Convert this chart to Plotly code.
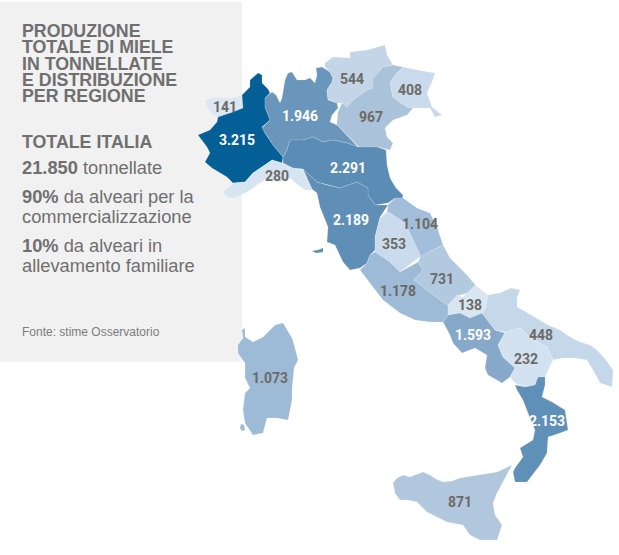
import plotly.graph_objects as go

# region outlines (x, y in picture units)
valle_aosta = [(205,100),(215,97),(223,98),(232,98),(242,95),(243,108),(233,112),(225,115),(217,117),(210,112),(207,107)]
piemonte = [(258,73),(262,75),(262,83),(268,89),(270,93),(265,98),(265,107),(270,120),(262,127),(265,133),(273,145),(283,157),(282,163),(272,160),(265,165),(253,173),(245,182),(233,183),(227,177),(212,168),(205,162),(210,153),(207,147),(198,135),(210,130),(217,122),(218,117),(225,115),(233,112),(243,108),(242,95),(250,87),(250,80)]
liguria = [(223,192),(227,197),(235,198),(247,192),(257,185),(268,178),(280,182),(290,178),(298,185),(305,190),(312,190),(303,170),(293,168),(283,163),(282,163),(272,160),(265,165),(253,173),(245,182),(233,183)]
lombardia = [(288,73),(292,72),(297,80),(305,80),(310,78),(315,83),(317,75),(316,68),(322,67),(330,72),(333,78),(332,82),(327,90),(328,100),(337,103),(338,108),(332,115),(330,122),(337,125),(347,135),(358,147),(347,143),(333,140),(323,142),(313,137),(303,140),(290,140),(287,150),(283,157),(273,145),(265,133),(262,128),(270,120),(265,107),(265,98),(272,92),(276,95),(280,103),(282,98),(283,90),(285,80)]
trentino = [(325,63),(333,57),(350,58),(350,52),(367,50),(385,45),(387,55),(393,65),(383,67),(373,78),(373,88),(367,90),(353,100),(347,107),(342,103),(337,103),(328,100),(327,90),(332,82),(333,78),(330,72),(325,67)]
veneto = [(383,67),(393,65),(403,67),(397,73),(390,83),(393,97),(407,107),(413,108),(407,115),(393,120),(385,128),(387,137),(393,143),(390,150),(377,147),(360,148),(347,135),(337,125),(337,122),(338,112),(342,103),(347,107),(353,100),(367,90),(373,88),(373,78)]
friuli = [(403,67),(417,70),(435,73),(432,82),(427,93),(432,107),(442,115),(435,117),(430,108),(413,108),(407,107),(393,97),(390,83),(397,73)]
emilia = [(290,140),(303,140),(313,137),(323,142),(333,140),(347,143),(358,147),(377,147),(386,150),(387,165),(390,178),(396,188),(403,195),(402,200),(395,198),(388,203),(375,205),(368,195),(368,188),(357,182),(340,188),(327,185),(317,182),(303,169),(293,168),(283,163),(283,157),(287,150)]
toscana = [(303,169),(317,182),(327,185),(340,188),(357,182),(368,188),(368,195),(375,205),(388,205),(380,217),(375,237),(375,250),(370,255),(367,263),(360,268),(350,270),(343,262),(335,245),(327,242),(328,227),(320,207),(317,193),(312,189)]
elba = [(312,251),(318,250),(323,248),(323,252),(316,253)]
marche = [(388,205),(395,198),(403,198),(417,208),(430,213),(437,227),(443,245),(427,253),(420,258),(413,240),(405,223),(393,215),(387,212)]
umbria = [(387,212),(393,215),(405,223),(413,240),(421,256),(413,262),(400,272),(390,262),(375,252),(375,237),(380,218)]
abruzzo = [(443,245),(450,258),(467,275),(477,287),(468,293),(460,295),(448,305),(440,300),(427,290),(414,280),(423,270),(418,262),(421,256),(427,253)]
lazio = [(375,252),(390,262),(400,272),(418,262),(423,270),(414,280),(427,290),(440,300),(448,305),(448,315),(443,322),(430,322),(415,320),(400,313),(383,300),(370,283),(360,270),(367,263),(370,255)]
molise = [(448,305),(457,295),(463,297),(475,285),(488,295),(485,310),(482,313),(470,318),(460,313),(448,315)]
campania = [(443,322),(448,315),(460,313),(470,318),(482,313),(495,330),(505,333),(498,345),(503,357),(515,368),(510,377),(502,383),(488,375),(485,368),(487,355),(475,348),(462,353),(453,343),(450,335)]
puglia = [(488,295),(500,293),(511,288),(520,290),(517,298),(517,307),(526,312),(535,317),(548,325),(560,330),(570,337),(580,342),(590,345),(597,350),(606,360),(613,370),(612,387),(600,383),(597,377),(587,360),(575,358),(563,358),(553,360),(547,347),(530,338),(520,328),(505,332),(495,330),(482,313),(485,310)]
basilicata = [(505,332),(520,328),(530,338),(547,347),(553,360),(545,377),(538,377),(535,385),(525,387),(515,383),(510,377),(515,368),(503,357),(498,345)]
calabria = [(515,385),(525,387),(535,385),(538,377),(545,377),(545,385),(542,397),(552,402),(565,410),(568,430),(560,433),(548,437),(547,453),(540,465),(527,482),(515,482),(513,472),(515,468),(523,457),(520,448),(533,440),(535,430),(528,413),(523,400),(517,390)]
sicilia = [(393,483),(397,478),(403,475),(410,477),(415,475),(423,472),(430,475),(436,479),(443,482),(452,481),(460,478),(477,475),(497,472),(512,465),(502,483),(497,493),(493,503),(495,515),(502,525),(497,540),(480,540),(470,535),(463,525),(447,522),(427,512),(417,502),(408,500),(400,500),(395,493)]
sardegna = [(238,345),(243,338),(242,330),(245,328),(245,337),(253,342),(263,337),(270,330),(275,325),(283,323),(287,330),(292,338),(295,348),(298,360),(294,368),(293,377),(292,390),(292,400),(288,420),(277,418),(267,418),(263,433),(253,435),(245,423),(243,410),(245,393),(250,388),(245,378),(245,363),(238,353)]
sant_antioco = [(241,424),(244,425),(245,430),(242,431),(240,428)]

regioni = ["Valle d'Aosta","Piemonte","Liguria","Lombardia","Trentino","Veneto","Friuli","Emilia-Romagna","Toscana","Marche","Umbria","Abruzzo","Lazio","Molise","Campania","Puglia","Basilicata","Calabria","Sicilia","Sardegna"]
produzione = ["141","3.215","280","1.946","544","967","408","2.291","2.189","1.104","353","731","1.178","138","1.593","448","232","2.153","871","1.073"]
contorni = [valle_aosta,piemonte,liguria,lombardia,trentino,veneto,friuli,emilia,toscana,marche,umbria,abruzzo,lazio,molise,campania,puglia,basilicata,calabria,sicilia,sardegna]
colori = ["#dbe8f3","#045f97","#d7e5f2","#6b96bc","#c3d5e7","#abc2db","#c8daeb","#5b8cb5","#5f8fb7","#a3bedb","#c9dbec","#b2c9e0","#9dbad7","#d8e6f2","#87a9c9","#c5d8ea","#d3e2f0","#5f90b8","#b0c7de","#9dbad7"]
label_x = [225,237,277,300,352,371,410,348,351,420,394,442,398,470,473,541,526,547,460,270]
label_y = [108,141,177,117,80,118,91,169,221,225,245,280,292,306,336,336,360,422,503,379]
label_col = ["#6d6a66","white","#6d6a66","white","#6d6a66","#6d6a66","#6d6a66","white","white","#6d6a66","#6d6a66","#6d6a66","#6d6a66","#6d6a66","white","#6d6a66","#6d6a66","white","#6d6a66","#6d6a66"]

GREY = "#6f6f6f"
# lines of the side panel: text, y, size, colour
panel_righe = [
    ("<b>PRODUZIONE</b>", 31, 17.8, GREY),
    ("<b>TOTALE DI MIELE</b>", 47, 17.8, GREY),
    ("<b>IN TONNELLATE</b>", 64, 17.8, GREY),
    ("<b>E DISTRIBUZIONE</b>", 80, 17.8, GREY),
    ("<b>PER REGIONE</b>", 96, 17.8, GREY),
    ("<b>TOTALE ITALIA</b>", 142, 17.8, GREY),
    ("<b>21.850</b> tonnellate", 167, 18.3, GREY),
    ("<b>90%</b> da alveari per la", 196, 18.3, GREY),
    ("commercializzazione", 216, 18.3, GREY),
    ("<b>10%</b> da alveari in", 245, 18.3, GREY),
    ("allevamento familiare", 265, 18.3, GREY),
    ("Fonte: stime Osservatorio", 332, 12, "#7d7d7d"),
]

fig = go.Figure()

for nome, contorno, col in zip(regioni, contorni, colori):
    xs = [p[0] for p in contorno]
    ys = [p[1] for p in contorno]
    fig.add_trace(go.Scatter(x=xs + xs[:1], y=ys + ys[:1], name=nome, mode="lines", fill="toself",
                             fillcolor=col, line=dict(color="rgba(255,255,255,0.25)", width=0.6),
                             hoverinfo="name", showlegend=False))

# small islands, no label of their own
for isola, col in [(elba, colori[8]), (sant_antioco, colori[19])]:
    fig.add_trace(go.Scatter(x=[p[0] for p in isola], y=[p[1] for p in isola], mode="lines", fill="toself",
                             fillcolor=col, line=dict(width=0), hoverinfo="skip", showlegend=False))

fig.add_trace(go.Scatter(x=label_x, y=label_y, mode="text", text=produzione,
                         textfont=dict(family="Roboto", size=14, color=label_col, weight="bold"),
                         hoverinfo="skip", showlegend=False))

fig.add_shape(type="rect", x0=0, x1=242, y0=2, y1=362, fillcolor="#f1f1f1", line_width=0, layer="below")

for testo, y, size, col in panel_righe:
    fig.add_annotation(x=20, y=y, text=testo, showarrow=False, xanchor="left", yanchor="middle",
                       font=dict(family="Liberation Sans", size=size, color=col))

fig.update_xaxes(range=[0, 619], visible=False)
fig.update_yaxes(range=[555, 0], visible=False)
fig.update_layout(width=619, height=555, margin=dict(l=0, r=0, t=0, b=0),
                  paper_bgcolor="white", plot_bgcolor="white")

fig.write_html("out.html", post_script="document.body.style.margin='0';", config=dict(displayModeBar=False))
